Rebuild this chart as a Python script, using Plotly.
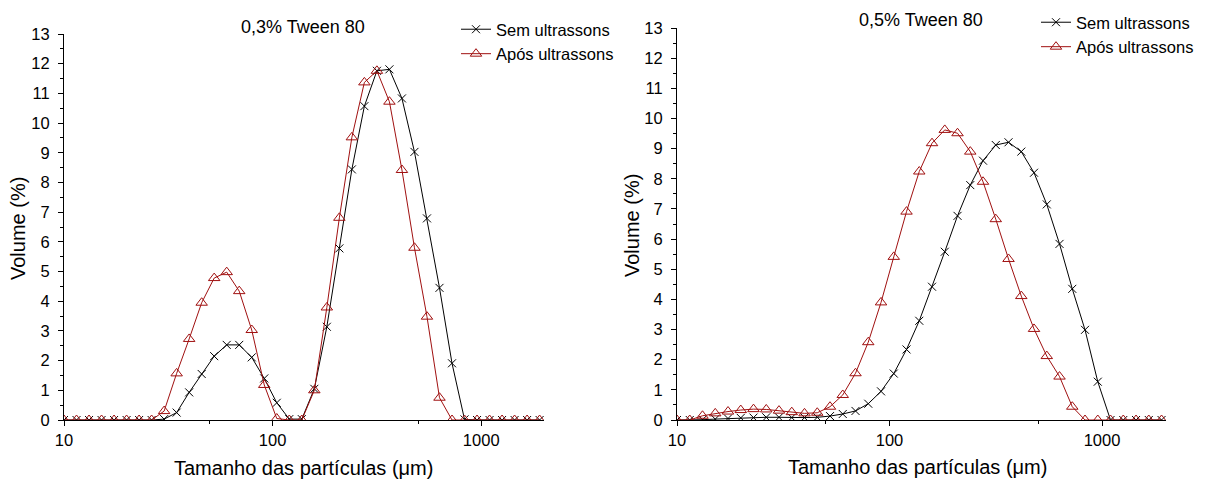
import plotly.graph_objects as go

# Particle size bins (µm)
sizes = [10.0, 11.482, 13.183, 15.136, 17.378, 19.953, 22.909, 26.303, 30.200, 34.674,
         39.811, 45.709, 52.481, 60.256, 69.183, 79.433, 91.201, 104.713, 120.226, 138.038,
         158.489, 181.970, 208.930, 239.883, 275.423, 316.228, 363.078, 416.869, 478.630,
         549.541, 630.957, 724.436, 831.764, 954.993, 1096.478, 1258.925, 1445.440,
         1659.587, 1905.461]

# 0,3% Tween 80
sem_03 = [0, 0, 0, 0, 0, 0, 0, 0, 0.03, 0.25,
          0.93, 1.55, 2.15, 2.53, 2.53, 2.11, 1.40, 0.58, 0.03, 0.03,
          1.05, 3.14, 5.78, 8.44, 10.57, 11.76, 11.81, 10.83, 9.03,
          6.79, 4.45, 1.91, 0.02, 0, 0, 0, 0, 0, 0]
apos_03 = [0, 0, 0, 0, 0, 0, 0, 0, 0.30, 1.57,
           2.73, 3.95, 4.78, 4.98, 4.34, 3.03, 1.18, 0.05, 0, 0,
           1.00, 3.79, 6.81, 9.52, 11.37, 11.76, 10.72, 8.42, 5.80,
           3.48, 0.75, 0, 0, 0, 0, 0, 0, 0, 0]

# 0,5% Tween 80
sem_05 = [0, 0, 0.01, 0.03, 0.05, 0.07, 0.08, 0.09, 0.09, 0.08,
          0.08, 0.09, 0.13, 0.20, 0.30, 0.54, 0.95, 1.54, 2.34, 3.29,
          4.42, 5.58, 6.77, 7.79, 8.60, 9.12, 9.21, 8.90, 8.20,
          7.15, 5.84, 4.35, 2.99, 1.27, 0, 0, 0, 0, 0]
apos_05 = [0, 0, 0.14, 0.22, 0.28, 0.33, 0.36, 0.35, 0.31, 0.26,
           0.22, 0.24, 0.44, 0.83, 1.55, 2.58, 3.90, 5.41, 6.91, 8.24,
           9.18, 9.62, 9.51, 8.90, 7.90, 6.66, 5.34, 4.11, 3.02,
           2.12, 1.44, 0.44, 0, 0, 0, 0, 0, 0, 0]

titles = ["0,3% Tween 80", "0,5% Tween 80"]
series_names = ["Sem ultrassons", "Após ultrassons"]
x_ticks = [10, 100, 1000]
x_minor = [50, 500]
y_ticks = list(range(0, 14))
x_title = "Tamanho das partículas (μm)"
y_title = "Volume (%)"

W, H = 1210, 482
FONT = "Liberation Sans, Arial, sans-serif"
BLACK = "#000000"
RED = "#A01010"

fig = go.Figure()

panels = [
    dict(sem=sem_03, apos=apos_03, xa="x", ya="y", legend="legend"),
    dict(sem=sem_05, apos=apos_05, xa="x2", ya="y2", legend="legend2"),
]
for p in panels:
    fig.add_trace(go.Scatter(
        x=sizes, y=p["sem"], mode="lines+markers", name=series_names[0],
        line=dict(color=BLACK, width=1),
        marker=dict(symbol="x-thin", size=8, line=dict(color=BLACK, width=1), color=BLACK),
        xaxis=p["xa"], yaxis=p["ya"], legend=p["legend"]))
    fig.add_trace(go.Scatter(
        x=sizes, y=p["apos"], mode="lines+markers", name=series_names[1],
        line=dict(color=RED, width=1),
        marker=dict(symbol="triangle-up-open", size=10, line=dict(color=RED, width=1), color=RED),
        xaxis=p["xa"], yaxis=p["ya"], legend=p["legend"]))

def px(v):
    return v / W

def py(v):
    return 1 - v / H

TICKFONT = dict(family=FONT, size=16.5, color=BLACK)
common_x = dict(type="log", range=[1, 3.301], showline=True, linecolor=BLACK, linewidth=1,
                ticks="outside", ticklen=5, tickwidth=1, tickcolor=BLACK,
                tickvals=x_ticks, ticktext=[str(v) for v in x_ticks],
                showgrid=False, zeroline=False, automargin=False,
                tickfont=TICKFONT,
                minor=dict(tickmode="array", tickvals=x_minor, ticks="outside", ticklen=3,
                           tickwidth=1, tickcolor=BLACK, showgrid=False))
common_y = dict(range=[0, 13], showline=True, linecolor=BLACK, linewidth=1,
                ticks="outside", ticklen=5, tickwidth=1, tickcolor=BLACK,
                tickvals=y_ticks, showgrid=False, zeroline=False, automargin=False,
                tickfont=TICKFONT, ticklabelstandoff=5,
                minor=dict(dtick=0.5, ticks="outside", ticklen=3, tickwidth=1,
                           tickcolor=BLACK, showgrid=False))

LEGFONT = dict(family=FONT, size=16.5, color=BLACK)
fig.update_layout(
    width=W, height=H,
    margin=dict(l=0, r=0, t=0, b=0, pad=0, autoexpand=False),
    paper_bgcolor="white", plot_bgcolor="white",
    font=dict(family=FONT, color=BLACK),
    xaxis=dict(domain=[px(64), px(544)], anchor="y", **common_x),
    yaxis=dict(domain=[py(420), py(34)], anchor="x", **common_y),
    xaxis2=dict(domain=[px(677), px(1166)], anchor="y2", **common_x),
    yaxis2=dict(domain=[py(420), py(28)], anchor="x2", **common_y),
    legend=dict(x=px(456), y=py(12), xanchor="left", yanchor="top",
                bgcolor="rgba(0,0,0,0)", font=LEGFONT,
                tracegroupgap=0, itemwidth=30),
    legend2=dict(x=px(1036), y=py(5), xanchor="left", yanchor="top",
                 bgcolor="rgba(0,0,0,0)", font=LEGFONT,
                 tracegroupgap=0, itemwidth=30),
    showlegend=True,
)

annots = [
    dict(text=titles[0], x=px(303), y=py(27), size=18),
    dict(text=titles[1], x=px(921), y=py(20), size=18),
    dict(text=x_title, x=px(303), y=py(468), size=20),
    dict(text=x_title, x=px(917), y=py(467), size=20),
    dict(text=y_title, x=px(18), y=py(229), size=20, angle=-90),
    dict(text=y_title, x=px(632), y=py(226), size=20, angle=-90),
]
for a in annots:
    fig.add_annotation(text=a["text"], x=a["x"], y=a["y"], xref="paper", yref="paper",
                       xanchor="center", yanchor="middle", showarrow=False,
                       textangle=a.get("angle", 0),
                       font=dict(family=FONT, size=a.get("size", 16), color=BLACK))

fig.write_html("out.html", config={"displayModeBar": False},
               post_script="document.body.style.margin='0px';")
